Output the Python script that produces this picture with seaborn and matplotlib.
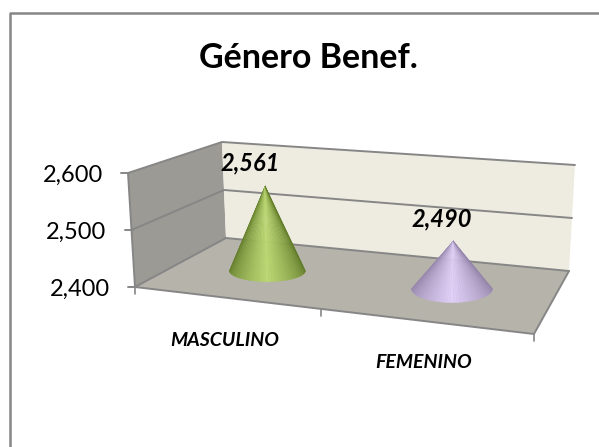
import numpy as np
import matplotlib
matplotlib.use('Agg')
import matplotlib.pyplot as plt
import seaborn as sns
from matplotlib.collections import PolyCollection

# Data
title = 'Género Benef.'
categories = ['MASCULINO', 'FEMENINO']
values = [2561, 2490]
value_labels = ['2,561', '2,490']
tick_values = [2400, 2500, 2600]
tick_labels = ['2,400', '2,500', '2,600']

Y_MIN, Y_MAX = 2400, 2600

sns.set_theme(style='white')
plt.rcParams['font.family'] = ['Lato', 'DejaVu Sans']

# Corners of the 3D box in pixels: (side, depth, height)
corners = {
    (0, 0, 0): (135, 287), (0, 0, 1): (128, 173),
    (0, 1, 0): (226, 238), (0, 1, 1): (222, 142),
    (1, 0, 0): (534, 334), (1, 0, 1): (540, 228),
    (1, 1, 0): (569, 271), (1, 1, 1): (575, 165),
}


def project(u, w, value):
    # Map category position, depth and value onto the picture
    v = (value - Y_MIN) / (Y_MAX - Y_MIN)
    p = np.zeros(2)
    for (a, b, c), xy in corners.items():
        weight = (u if a else 1 - u) * (w if b else 1 - w) * (v if c else 1 - v)
        p += weight * np.array(xy)
    return p


def face(points):
    return np.array([project(*q) for q in points])


def draw_cone(ax, u, w, value, half_width, half_depth, palette):
    centre = project(u, w, Y_MIN)
    apex = project(u, w, value)
    angles = np.linspace(np.pi, 0, len(palette) + 1)
    xs = centre[0] + half_width * np.cos(angles)
    ys = centre[1] + half_depth * np.sin(angles)
    polys = [[apex, (xs[i], ys[i]), (xs[i + 1], ys[i + 1])] for i in range(len(palette))]
    ax.add_collection(PolyCollection(polys, facecolors=palette, edgecolors=palette, linewidths=0.3, zorder=5))


fig = plt.figure(figsize=(5.99, 4.47), dpi=100)
ax = fig.add_axes([0, 0, 1, 1])
ax.set_xlim(0, 599)
ax.set_ylim(447, 0)
ax.axis('off')

# Chart border, only top and left fall inside the picture
ax.plot([9.5, 9.5, 599], [447, 12.5, 12.5], color='#868686', lw=1.8)

# Walls and floor
ax.fill(*face([(0, 0, Y_MIN), (0, 1, Y_MIN), (0, 1, Y_MAX), (0, 0, Y_MAX)]).T, color='#9b9a94', lw=0)
ax.fill(*face([(0, 1, Y_MIN), (1, 1, Y_MIN), (1, 1, Y_MAX), (0, 1, Y_MAX)]).T, color='#eeece0', lw=0)
ax.fill(*face([(0, 0, Y_MIN), (1, 0, Y_MIN), (1, 1, Y_MIN), (0, 1, Y_MIN)]).T, color='#b6b3aa', lw=0)

# Gridlines and axis lines
grid = '#868686'
for t in tick_values:
    line = face([(0, 0, t), (0, 1, t), (1, 1, t)])
    sns.lineplot(x=line[:, 0], y=line[:, 1], ax=ax, color=grid, lw=1.4, sort=False, estimator=None)
    p = project(0, 0, t)
    ax.plot([p[0] - 7, p[0] + 1], [p[1], p[1]], color=grid, lw=1.4)
edge = face([(0, 0, Y_MAX), (0, 0, Y_MIN), (1, 0, Y_MIN), (1, 1, Y_MIN)])
ax.plot(edge[:, 0], edge[:, 1], color=grid, lw=1.4)
for u in [0, 0.465, 1]:
    p = project(u, 0, Y_MIN)
    ax.plot([p[0], p[0]], [p[1], p[1] + 7], color=grid, lw=1.2)

# Cones
positions = [0.23, 0.725]
depths = [0.52, 0.55]
half_widths = [38, 40.5]
half_depths = [11, 14]
light = ['#bcd873', '#e0d0f7']
dark = ['#5f7a26', '#9484ab']
for i, val in enumerate(values):
    ramp = sns.blend_palette([dark[i], light[i], dark[i]], 41)
    draw_cone(ax, positions[i], depths[i], val, half_widths[i], half_depths[i], ramp)

# Text
ax.text(308, 58, title, ha='center', va='center', fontsize=24.5, fontweight='bold', color='black')
for t, lab in zip(tick_values, tick_labels):
    p = project(0, 0, t)
    ax.text(p[0] - 25, p[1] + 2, lab, ha='right', va='center', fontsize=17, color='black')
label_xy = [(250, 163), (442, 219)]
for xy, lab in zip(label_xy, value_labels):
    ax.text(xy[0], xy[1], lab, ha='center', va='center', fontsize=17, fontweight='bold', style='italic', color='black', zorder=6)
cat_xy = [(225, 340), (424, 363)]
for xy, lab in zip(cat_xy, categories):
    ax.text(xy[0], xy[1], lab, ha='center', va='center', fontsize=14, fontweight='bold', style='italic', color='black')

fig.savefig('out.png', dpi=100)
